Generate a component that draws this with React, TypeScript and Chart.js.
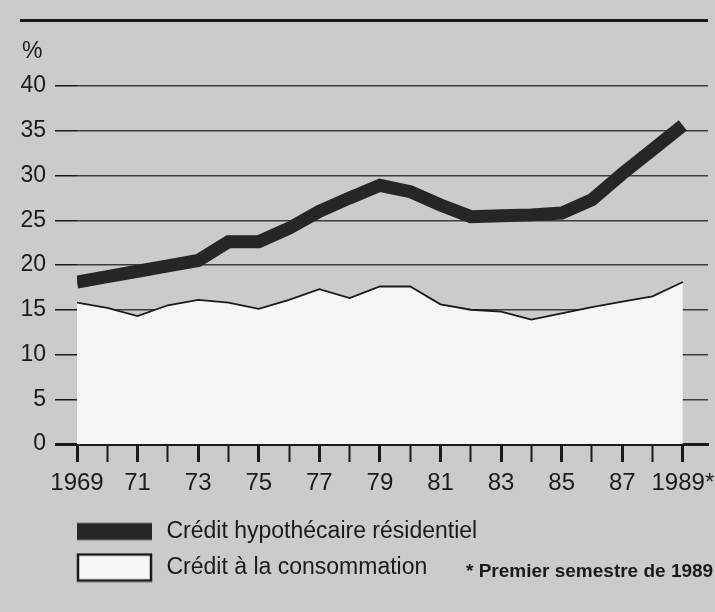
import React, { useEffect, useRef } from 'react';
import { Chart, registerables } from 'chart.js';

Chart.register(...registerables);

// ---- Data ----
const years = [1969, 1970, 1971, 1972, 1973, 1974, 1975, 1976, 1977, 1978, 1979, 1980, 1981, 1982, 1983, 1984, 1985, 1986, 1987, 1988, 1989];
const mortgage = [18.1, 18.7, 19.3, 19.9, 20.5, 22.6, 22.6, 24.1, 26.0, 27.5, 28.9, 28.2, 26.7, 25.4, 25.5, 25.6, 25.8, 27.3, 30.2, 32.9, 35.6];
const consumption = [15.8, 15.2, 14.3, 15.5, 16.1, 15.8, 15.1, 16.1, 17.3, 16.3, 17.6, 17.6, 15.6, 15.0, 14.8, 13.9, 14.6, 15.3, 15.9, 16.5, 18.1];
const yTickValues = [0, 5, 10, 15, 20, 25, 30, 35, 40];
const labeledYears = [1969, 1971, 1973, 1975, 1977, 1979, 1981, 1983, 1985, 1987, 1989];
const labeledTexts = ['1969', '71', '73', '75', '77', '79', '81', '83', '85', '87', '1989*'];
const seriesNames = ['Crédit hypothécaire résidentiel', 'Crédit à la consommation'];
const unitLabel = '%';
const footnote = '* Premier semestre de 1989';

// ---- Styles ----
const INK = '#1a1a1a';
const BAND = '#262626';
const BG = '#cbcbcb';
const FILL = '#f6f6f6';
const NARROW = "'Liberation Sans Narrow', 'Liberation Sans', Arial, sans-serif";
const SANS = "'Liberation Sans', Arial, sans-serif";

function makeSwatch(kind: 'band' | 'box'): HTMLCanvasElement {
  const c = document.createElement('canvas');
  c.width = 142;
  c.height = 30;
  const g = c.getContext('2d')!;
  if (kind === 'band') {
    g.fillStyle = BAND;
    g.fillRect(64, 6.5, 75, 17);
  } else {
    g.fillStyle = FILL;
    g.fillRect(65, 2, 73, 26);
    g.strokeStyle = INK;
    g.lineWidth = 2.5;
    g.strokeRect(65, 2, 73, 26);
  }
  return c;
}

const backgroundPlugin = {
  id: 'paperBg',
  beforeDraw(chart: any) {
    const { ctx, width, height } = chart;
    ctx.save();
    ctx.fillStyle = BG;
    ctx.fillRect(0, 0, width, height);
    ctx.restore();
  },
};

const decorPlugin = {
  id: 'decor',
  afterDraw(chart: any) {
    const { ctx } = chart;
    ctx.save();
    // top rule
    ctx.fillStyle = INK;
    ctx.fillRect(20, 19, 688, 3);
    // unit label
    ctx.font = `23px ${SANS}`;
    ctx.textBaseline = 'middle';
    ctx.textAlign = 'left';
    ctx.fillText(unitLabel, 22, 52);
    // footnote
    ctx.font = `bold 19px ${NARROW}`;
    ctx.fillText(footnote, 466, 572);
    ctx.restore();
  },
};

export default function App() {
  const ref = useRef<HTMLCanvasElement | null>(null);

  useEffect(() => {
    document.body.style.margin = '0';
    const canvas = ref.current!;
    const swatches = [makeSwatch('band'), makeSwatch('box')];

    const chart = new Chart(canvas, {
      type: 'line',
      data: {
        datasets: [
          {
            label: seriesNames[0],
            data: years.map((x, i) => ({ x, y: mortgage[i] })),
            borderColor: BAND,
            borderWidth: 13,
            pointRadius: 0,
            fill: false,
            tension: 0,
          },
          {
            label: seriesNames[1],
            data: years.map((x, i) => ({ x, y: consumption[i] })),
            borderColor: INK,
            borderWidth: 1.8,
            pointRadius: 0,
            fill: 'origin',
            backgroundColor: FILL,
            tension: 0,
          },
        ],
      },
      options: {
        responsive: false,
        animation: false,
        devicePixelRatio: 1,
        layout: { padding: { left: 0, right: 7, top: 86, bottom: 23 } },
        scales: {
          x: {
            type: 'linear',
            min: 1969,
            max: 1989.83,
            afterBuildTicks: (s: any) => {
              s.ticks = years.map((v) => ({ value: v }));
            },
            afterFit: (s: any) => {
              s.height = 63;
              s.paddingLeft = 0;
              s.paddingRight = 0;
            },
            ticks: {
              autoSkip: false,
              maxRotation: 0,
              minRotation: 0,
              padding: 7,
              color: INK,
              font: { family: SANS, size: 24 },
              callback: (v: any) => {
                const i = labeledYears.indexOf(Number(v));
                return i >= 0 ? labeledTexts[i] : '';
              },
            },
            grid: {
              drawOnChartArea: false,
              drawTicks: true,
              tickLength: 18,
              tickColor: INK,
              tickWidth: (ctx: any) => (ctx.tick && labeledYears.includes(ctx.tick.value) ? 3 : 2),
            },
            border: { display: true, color: INK, width: 3 },
          },
          y: {
            min: 0,
            max: 40,
            afterBuildTicks: (s: any) => {
              s.ticks = yTickValues.map((v) => ({ value: v }));
            },
            afterFit: (s: any) => {
              s.width = 77;
              s.paddingTop = 0;
              s.paddingBottom = 0;
              s.paddingLeft = 0;
              s.paddingRight = 0;
            },
            ticks: {
              padding: 9,
              color: INK,
              font: { family: SANS, size: 23 },
            },
            grid: {
              color: 'rgba(35,35,35,0.85)',
              lineWidth: (ctx: any) => (ctx.tick && ctx.tick.value === 0 ? 3 : 1.5),
              tickLength: 22,
              tickColor: INK,
              tickWidth: (ctx: any) => (ctx.tick && ctx.tick.value === 0 ? 3 : 1.5),
            },
            border: { display: false },
          },
        },
        plugins: {
          legend: {
            position: 'bottom',
            align: 'start',
            labels: {
              usePointStyle: true,
              pointStyleWidth: 142,
              padding: 13,
              color: INK,
              font: { family: SANS, size: 23 },
              generateLabels: () =>
                seriesNames.map((name, i) => ({
                  text: name,
                  pointStyle: swatches[i] as any,
                  fillStyle: 'transparent',
                  strokeStyle: 'transparent',
                  lineWidth: 0,
                  hidden: false,
                  datasetIndex: i,
                  fontColor: INK,
                })),
            },
          },
          tooltip: { enabled: false },
          title: { display: false },
        },
      } as any,
      plugins: [backgroundPlugin, decorPlugin],
    });

    return () => chart.destroy();
  }, []);

  return (
    <div style={{ width: 715, height: 612 }}>
      <canvas ref={ref} width={715} height={612} style={{ display: 'block' }} />
    </div>
  );
}
